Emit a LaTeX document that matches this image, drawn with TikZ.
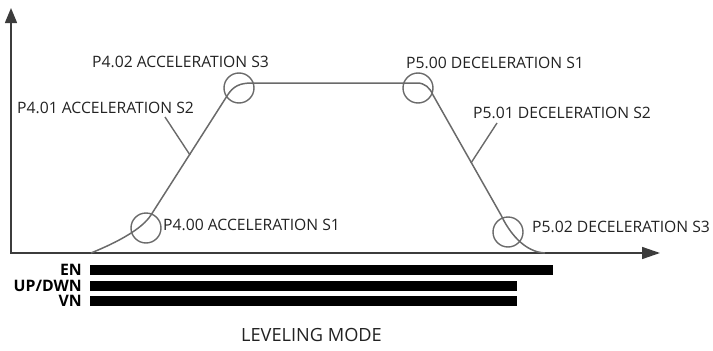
\documentclass[tikz,border=0pt]{standalone}
\usepackage{fontspec}
\setmainfont{Open Sans}
\usetikzlibrary{arrows.meta}
\definecolor{curvegray}{HTML}{6A6A6A}
\definecolor{axisgray}{HTML}{3C3C3C}
\definecolor{txt}{HTML}{222222}
\begin{document}
\begin{tikzpicture}[x=1pt,y=-1pt,
  curve/.style={draw=curvegray, line width=1.5pt},
  axis/.style={draw=axisgray, line width=1.5pt, {Triangle[length=15pt,width=12pt]}-{Triangle[length=18pt,width=12pt]}},
  ring/.style={circle, draw=curvegray, line width=1.4pt, minimum size=30pt, inner sep=0pt},
  lbl/.style={font=\fontsize{15.7}{18}\selectfont, text=txt, inner sep=0pt, anchor=west},
  sig/.style={font=\bfseries\fontsize{15.8}{17}\selectfont, text=black, inner sep=0pt, anchor=east},
  bar/.style={fill=black},
  leader/.style={draw=curvegray, line width=1.4pt}]
\useasboundingbox (0,0) rectangle (713,351);
% axes
\coordinate (O) at (11,253);
\coordinate (ytip) at (11,8);
\coordinate (xtip) at (660,253);
\draw[axis] (ytip) -- (O) -- (xtip);
% speed profile
\coordinate (c0) at (91,253);
\coordinate (c1) at (151,215);
\coordinate (c2) at (227,96);
\coordinate (c3) at (252,83);
\coordinate (c4) at (417,83);
\coordinate (c5) at (433,95);
\coordinate (c6) at (501,215);
\coordinate (c7) at (545,253);
\draw[curve] (c0) .. controls (118,242) and (142,229) .. (c1) -- (c2)
  .. controls (233,86) and (240,83) .. (c3) -- (c4)
  .. controls (425,83) and (430,88) .. (c5) -- (c6)
  .. controls (509,232) and (524,252) .. (c7);
% circles
\node[ring] (r400) at (146,228) {};
\node[ring] (r402) at (239,88) {};
\node[ring] (r500) at (418,88) {};
\node[ring] (r502) at (508,232) {};
% labels
\node[lbl] (t402) at (92,62) {P4.02 ACCELERATION S3};
\node[lbl] (t401) at (17,108) {P4.01 ACCELERATION S2};
\node[lbl] (t400) at (163,225) {P4.00 ACCELERATION S1};
\node[lbl] (t500) at (406,63) {P5.00 DECELERATION S1};
\node[lbl] (t501) at (473,113) {P5.01 DECELERATION S2};
\node[lbl] (t502) at (532,227) {P5.02 DECELERATION S3};
% leaders
\coordinate (l1a) at (190,155);
\coordinate (l1b) at (165,117);
\coordinate (l2a) at (471,163);
\coordinate (l2b) at (497,123);
\draw[leader] (l1a) -- (l1b);
\draw[leader] (l2a) -- (l2b);
% signals
\node[sig] (en) at (82,270) {EN};
\node[sig] (ud) at (82,285.5) {UP/DWN};
\node[sig] (vn) at (82,300.5) {VN};
\path[bar] (90,265) rectangle (553,275);
\path[bar] (90,281) rectangle (517,290.5);
\path[bar] (90,296) rectangle (517,305.5);
\node[font=\fontsize{18.2}{21}\selectfont, text=txt, inner sep=0pt] (mode) at (311.5,335) {LEVELING MODE};
\end{tikzpicture}
\end{document}
